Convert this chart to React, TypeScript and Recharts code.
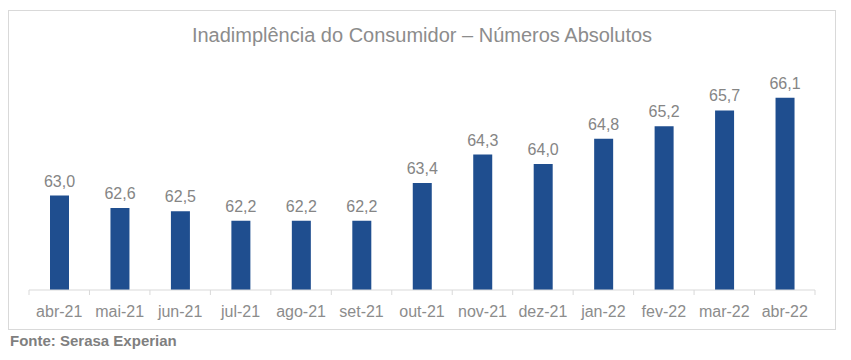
import React from "react";
import { BarChart, Bar, XAxis, YAxis, LabelList } from "recharts";

const months = [
  "abr-21", "mai-21", "jun-21", "jul-21", "ago-21", "set-21", "out-21",
  "nov-21", "dez-21", "jan-22", "fev-22", "mar-22", "abr-22",
];
const values = [63.0, 62.6, 62.5, 62.2, 62.2, 62.2, 63.4, 64.3, 64.0, 64.8, 65.2, 65.7, 66.1];

const data = months.map((m, i) => ({ month: m, value: values[i] }));

const font = '"Liberation Sans", Arial, sans-serif';
const gridColor = "#d9d9d9";

function MonthTick(props: any) {
  const { x, y, payload, index } = props;
  const half = payload?.offset || 30.2;
  return (
    <g>
      <line x1={x - half} y1={y - 8} x2={x - half} y2={y - 3} stroke={gridColor} />
      {index === months.length - 1 && (
        <line x1={x + half} y1={y - 8} x2={x + half} y2={y - 3} stroke={gridColor} />
      )}
      <text x={x} y={y + 19} textAnchor="middle" fill="#8c8c8c" fontSize={16} fontFamily={font}>
        {payload.value}
      </text>
    </g>
  );
}

export default function App() {
  return (
    <div style={{ position: "relative", width: 843, height: 350, fontFamily: font, marginTop: 2 }}>
      <div
        style={{
          position: "absolute",
          left: 0,
          top: 0,
          width: 828,
          height: 320,
          border: `1px solid ${gridColor}`,
          boxSizing: "border-box",
        }}
      >
        <div
          style={{
            position: "absolute",
            left: 0,
            right: 0,
            top: 13,
            textAlign: "center",
            color: "#8c8c8c",
            fontSize: 20,
          }}
        >
          Inadimplência do Consumidor – Números Absolutos
        </div>
        <BarChart
          width={826}
          height={318}
          data={data}
          margin={{ top: 27, right: 20, left: 20, bottom: 9 }}
        >
          <YAxis hide domain={[60, 68]} />
          <XAxis
            dataKey="month"
            height={30}
            axisLine={{ stroke: gridColor }}
            tickLine={false}
            tick={<MonthTick />}
            interval={0}
          />
          <Bar dataKey="value" fill="#1f4e8f" barSize={19} isAnimationActive={false}>
            <LabelList
              dataKey="value"
              position="top"
              offset={9}
              formatter={(v: any) => Number(v).toFixed(1).replace(".", ",")}
              fill="#858585"
              fontSize={16}
              fontFamily={font}
            />
          </Bar>
        </BarChart>
      </div>
      <div
        style={{
          position: "absolute",
          left: 2,
          top: 322,
          color: "#7f7f7f",
          fontSize: 15,
          fontWeight: "bold",
        }}
      >
        Fonte: Serasa Experian
      </div>
    </div>
  );
}
